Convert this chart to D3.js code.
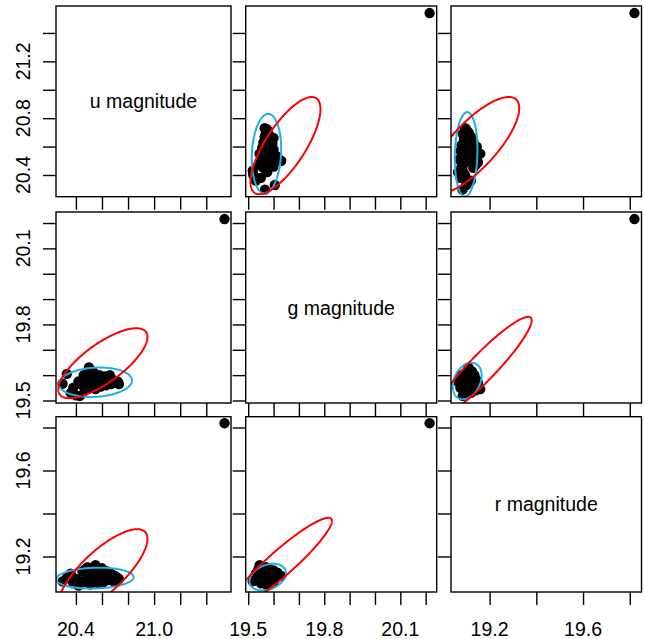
<!DOCTYPE html>
<html>
<head>
<meta charset="utf-8">
<script src="https://cdn.jsdelivr.net/npm/d3@7"></script>
<style>
  html, body { margin: 0; padding: 0; background: #fff; }
  svg { display: block; }
  text { font-family: "Liberation Sans", Arial, sans-serif; }
</style>
</head>
<body>
<svg id="chart" width="645" height="639"></svg>
<script>
// ---- data ----
const varNames = ["u magnitude", "g magnitude", "r magnitude"];
const u = [20.297, 20.33, 20.36, 20.38, 20.40, 20.42, 20.43, 20.45, 20.46, 20.47, 20.48, 20.49,
           20.50, 20.50, 20.51, 20.52, 20.53, 20.54, 20.55, 20.56, 20.57, 20.58, 20.59, 20.60,
           20.61, 20.62, 20.63, 20.64, 20.65, 20.66, 20.67, 20.69, 20.70, 20.72, 20.73, 21.54];
const g = [19.566, 19.605, 19.53, 19.55, 19.52, 19.575, 19.518, 19.56, 19.60, 19.54, 19.585, 19.57,
           19.63, 19.55, 19.59, 19.56, 19.615, 19.575, 19.545, 19.59, 19.565, 19.60, 19.555, 19.58,
           19.57, 19.595, 19.56, 19.585, 19.57, 19.60, 19.565, 19.58, 19.57, 19.575, 19.565, 20.2156];
const r = [19.084, 19.10, 19.12, 19.075, 19.095, 19.065, 19.085, 19.13, 19.08, 19.14, 19.09, 19.15,
           19.11, 19.105, 19.07, 19.12, 19.125, 19.09, 19.16, 19.10, 19.075, 19.135, 19.095, 19.145,
           19.08, 19.115, 19.10, 19.13, 19.09, 19.105, 19.12, 19.085, 19.11, 19.10, 19.095, 19.82];

const uTicks = [20.4, 20.6, 20.8, 21.0, 21.2, 21.4];
const gTicks = [19.5, 19.6, 19.7, 19.8, 19.9, 20.0, 20.1, 20.2];
const rTicks = [19.2, 19.4, 19.6, 19.8];
const uLeftLabels = [20.4, 20.8, 21.2];
const uBottomLabels = [20.4, 21.0];
const gLabels = [19.5, 19.8, 20.1];
const rLabels = [19.2, 19.6];

// tolerance ellipses per variable pair (data units): centre, half-extents, correlation
const ellipsePairs = [[0, 1], [0, 2], [1, 2]];
const classicalCenter = [[20.607, 19.647], [20.607, 19.131], [19.63, 19.17]];
const classicalHalf = [[0.342, 0.138], [0.342, 0.196], [0.20, 0.21]];
const classicalCorr = [0.75, 0.77, 0.93];
const robustCenter = [[20.55, 19.572], [20.546, 19.0995], [19.577, 19.104]];
const robustHalf = [[0.28, 0.058], [0.297, 0.0485], [0.072, 0.062]];
const robustCorr = [0.12, 0.10, 0.30];

// ---- layout ----
const vars = [u, g, r];
const ticks = [uTicks, gTicks, rTicks];
const leftLabels = [uLeftLabels, gLabels, rLabels];
const bottomLabels = [uBottomLabels, gLabels, rLabels];
const colX = [[56, 231], [245.7, 436.7], [451, 641.5]];
const rowY = [[6, 196.7], [212, 403], [416.7, 592]];
const tickLen = 13;
const fontSize = 19.5;

const svg = d3.select("#chart");
const defs = svg.append("defs");

function dom(arr) {
  const [lo, hi] = d3.extent(arr);
  const pad = (hi - lo) * 0.04;
  return [lo - pad, hi + pad];
}
const xScales = vars.map((v, j) => d3.scaleLinear().domain(dom(v)).range(colX[j]));
const yScales = vars.map((v, i) => d3.scaleLinear().domain(dom(v)).range([rowY[i][1], rowY[i][0]]));

function ellipsePoints(center, half, rho, swap) {
  const n = 240, pts = [];
  const s = Math.sqrt(1 - rho * rho);
  for (let k = 0; k < n; k++) {
    const t = 2 * Math.PI * k / n;
    const a = center[0] + half[0] * Math.cos(t);
    const b = center[1] + half[1] * (rho * Math.cos(t) + s * Math.sin(t));
    pts.push(swap ? [b, a] : [a, b]);
  }
  return pts;
}

for (let i = 0; i < 3; i++) {
  for (let j = 0; j < 3; j++) {
    const xs = xScales[j], ys = yScales[i];
    const [x0, x1] = colX[j], [y0, y1] = rowY[i];
    const pg = svg.append("g");

    const ax = d3.axisBottom(xs).tickValues(ticks[j]).tickSize(tickLen).tickFormat("");
    const gx = pg.append("g").attr("transform", `translate(0,${y1})`).call(ax);
    gx.select(".domain").remove();
    gx.selectAll("line").attr("stroke", "#000").attr("stroke-width", 1.4);

    const ay = d3.axisLeft(ys).tickValues(ticks[i]).tickSize(tickLen).tickFormat("");
    const gy = pg.append("g").attr("transform", `translate(${x0},0)`).call(ay);
    gy.select(".domain").remove();
    gy.selectAll("line").attr("stroke", "#000").attr("stroke-width", 1.4);

    if (j === 0) {
      pg.selectAll("text.ylab").data(leftLabels[i]).join("text")
        .attr("class", "ylab")
        .attr("transform", d => `translate(29.5,${ys(d)}) rotate(-90)`)
        .attr("text-anchor", "middle")
        .attr("font-size", fontSize)
        .attr("fill", "#000")
        .text(d => d.toFixed(1));
    }
    if (i === 2) {
      pg.selectAll("text.xlab").data(bottomLabels[j]).join("text")
        .attr("class", "xlab")
        .attr("x", d => xs(d))
        .attr("y", 636)
        .attr("text-anchor", "middle")
        .attr("font-size", fontSize)
        .attr("fill", "#000")
        .text(d => d.toFixed(1));
    }

    if (i === j) {
      pg.append("text")
        .attr("x", (x0 + x1) / 2)
        .attr("y", (y0 + y1) / 2 + 7)
        .attr("text-anchor", "middle")
        .attr("font-size", fontSize)
        .attr("fill", "#000")
        .text(varNames[i]);
    } else {
      const cid = `clip-${i}-${j}`;
      defs.append("clipPath").attr("id", cid)
        .append("rect").attr("x", x0).attr("y", y0).attr("width", x1 - x0).attr("height", y1 - y0);
      const inner = pg.append("g").attr("clip-path", `url(#${cid})`);

      inner.selectAll("circle").data(d3.range(vars[0].length)).join("circle")
        .attr("cx", k => xs(vars[j][k]))
        .attr("cy", k => ys(vars[i][k]))
        .attr("r", 5.2)
        .attr("fill", "#000");

      const pIdx = ellipsePairs.findIndex(p => (p[0] === j && p[1] === i) || (p[0] === i && p[1] === j));
      const swap = ellipsePairs[pIdx][0] !== j;
      const line = d3.line().x(d => xs(d[0])).y(d => ys(d[1])).curve(d3.curveLinearClosed);

      inner.append("path")
        .attr("d", line(ellipsePoints(robustCenter[pIdx], robustHalf[pIdx], robustCorr[pIdx], swap)))
        .attr("fill", "none").attr("stroke", "#1BB1E8").attr("stroke-width", 2);
      inner.append("path")
        .attr("d", line(ellipsePoints(classicalCenter[pIdx], classicalHalf[pIdx], classicalCorr[pIdx], swap)))
        .attr("fill", "none").attr("stroke", "#FF0000").attr("stroke-width", 2);
    }

    pg.append("rect")
      .attr("x", x0).attr("y", y0).attr("width", x1 - x0).attr("height", y1 - y0)
      .attr("fill", "none").attr("stroke", "#000").attr("stroke-width", 1.4);
  }
}
</script>
</body>
</html>
